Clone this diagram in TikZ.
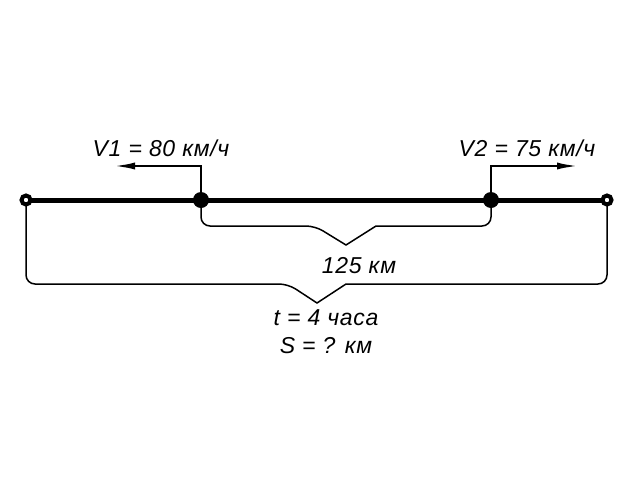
\documentclass[tikz,border=0pt]{standalone}
\usepackage{fontspec}
\setmainfont{Liberation Sans}[LetterSpace=3]
\usepackage{tikz}
\usetikzlibrary{positioning, arrows.meta, calc, backgrounds}
\tikzstyle{endDot} =[circle, draw, fill=white, line width=4pt, inner sep=0pt, minimum size=9pt]
\tikzstyle{carDot} =[circle, fill=black, inner sep=0pt, minimum size=16pt]
\tikzstyle{label} =[anchor=base, inner sep=0pt, font=\fontsize{23}{27}\selectfont\itshape]
\tikzstyle{bracket} =[line width=1.5pt, black]
\tikzstyle{speedArrow} =[-{Latex[length=22pt,width=7pt]}, line width=2.5pt, black]

\begin{document}
\begin{tikzpicture}[x=1pt, y=-1pt]
\useasboundingbox (0,0) rectangle (640,480);

\node (pLeft) [endDot] at (26,200) {};
\node (pA) [carDot] at (201,200) {};
\node (pB) [carDot] at (491,200) {};
\node (pRight) [endDot] at (607,200) {};

\coordinate (vOneTip) at (113,166);
\coordinate (vTwoTip) at (579,166);

\node (vOne) [label] at (161,156) {V1 = 80 км/ч};
\node (vTwo) [label] at (527,156) {V2 = 75 км/ч};
\node (dist) [label] at (359,273) {125 км};
\node (time) [label] at (326,325) {t = 4 часа};
\node (total) [label] at (326,353) {S = ? км};

\begin{scope}[on background layer]
\draw[line width=5pt, black] (pLeft.center) -- (pRight.center);

%% brace between the cars
\draw[bracket] (pA.center) [rounded corners=9pt] -- (pA.center |- 0,226) -- (315,226)
	[sharp corners] -- (346,245) -- (376,226)
	[rounded corners=9pt] -- (pB.center |- 0,226) -- (pB.center);

%% brace over the whole way
\draw[bracket] (pLeft.center) [rounded corners=9pt] -- (pLeft.center |- 0,284) -- (288,284)
	[sharp corners] -- (317,303) -- (346,284)
	[rounded corners=9pt] -- (pRight.center |- 0,284) -- (pRight.center);
\end{scope}

\draw[speedArrow] (pA.north) -- (pA.north |- vOneTip) -- (vOneTip);
\draw[speedArrow] (pB.north) -- (pB.north |- vTwoTip) -- (vTwoTip);
\end{tikzpicture}
\end{document}
